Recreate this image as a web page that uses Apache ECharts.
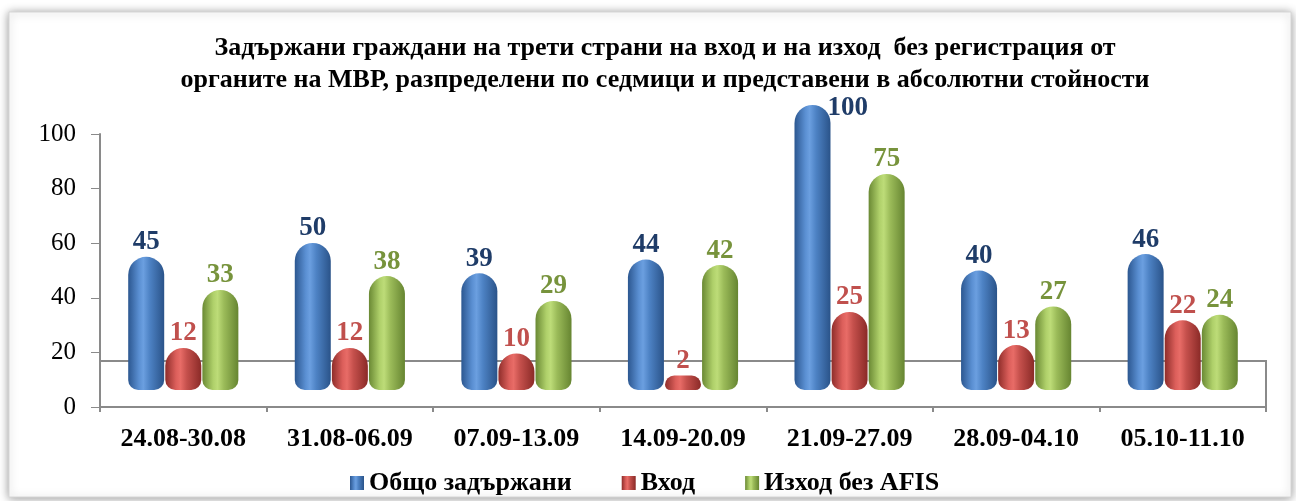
<!DOCTYPE html>
<html>
<head>
<meta charset="utf-8">
<script src="https://cdn.jsdelivr.net/npm/echarts@6/dist/echarts.min.js"></script>
<style>
html,body{margin:0;padding:0;background:#fff;}
#c{width:1296px;height:501px;}
</style>
</head>
<body>
<div id="c"></div>
<script>
var titleLines = [
  'Задържани граждани на трети страни на вход и на изход  без регистрация от',
  'органите на МВР, разпределени по седмици и представени в абсолютни стойности'
];
var categories = ['24.08-30.08','31.08-06.09','07.09-13.09','14.09-20.09','21.09-27.09','28.09-04.10','05.10-11.10'];
var seriesNames = ['Общо задържани','Вход','Изход без AFIS'];
var totalDetained = [45, 50, 39, 44, 100, 40, 46];
var entry = [12, 12, 10, 2, 25, 13, 22];
var exitNoAfis = [33, 38, 29, 42, 75, 27, 24];
var yTicks = [0, 20, 40, 60, 80, 100];

var serif = '"Liberation Serif","Times New Roman",serif';
function grad(stops){
  return {type:'linear',x:0,y:0,x2:1,y2:0,colorStops:stops.map(function(s){return {offset:s[0],color:s[1]};})};
}
var blueGrad = grad([[0,'#2c5790'],[0.3,'#5a8fd2'],[0.42,'#6b9fe0'],[0.6,'#4d82c4'],[1,'#2a5389']]);
var redGrad = grad([[0,'#8e2d2a'],[0.3,'#dc5f5b'],[0.42,'#e86c67'],[0.6,'#c5504c'],[1,'#8a2a27']]);
var greenGrad = grad([[0,'#6a8934'],[0.3,'#afd06a'],[0.42,'#bddc78'],[0.6,'#9bbb59'],[1,'#668531']]);

var radius = [18,18,10,10];
function barSeries(name, data, color, labelColor){
  return {
    name: name, type:'bar', xAxisIndex:1, yAxisIndex:1,
    data: data, barWidth:36, barGap:'3%',
    itemStyle:{color:color, borderRadius:radius},
    label:{show:true, position:'top', distance:1, color:labelColor,
      fontFamily:serif, fontWeight:'bold', fontSize:27}
  };
}
var s0 = barSeries(seriesNames[0], totalDetained.map(function(v){
  if (v === 100) return {value:v, label:{position:[33,-10]}};
  return v;
}), blueGrad, '#1f3c68');
var s1 = barSeries(seriesNames[1], entry, redGrad, '#c0504d');
var s2 = barSeries(seriesNames[2], exitNoAfis, greenGrad, '#77933c');

var chart = echarts.init(document.getElementById('c'));
chart.setOption({
  animation:false,
  backgroundColor:'#fff',
  graphic:[{
    type:'rect', shape:{x:9,y:12,width:1282,height:485},
    style:{fill:'#fff', stroke:'#d6d6d6', lineWidth:1, shadowBlur:9, shadowColor:'rgba(0,0,0,0.4)', shadowOffsetX:0, shadowOffsetY:1},
    z:-10, silent:true
  }],
  title:{
    text: titleLines.join('\n'),
    left:665, textAlign:'center', top:32, padding:0,
    textStyle:{fontFamily:serif, fontWeight:'bold', fontSize:26, lineHeight:32, color:'#000'}
  },
  legend:{
    data: seriesNames, left:345, top:465, itemGap:50, itemWidth:14, itemHeight:14, icon:'rect',
    textStyle:{fontFamily:serif, fontWeight:'bold', fontSize:26, color:'#000'}
  },
  grid:[
    {left:100, right:30, top:134, bottom:94},
    {left:100, right:30, top:105, bottom:111},
    {left:100, right:30, top:361, bottom:94, show:true, borderColor:'#8a8a8a', borderWidth:2, backgroundColor:'transparent'}
  ],
  xAxis:[
    {type:'category', gridIndex:0, data:categories,
     axisLine:{show:true, lineStyle:{color:'#8a8a8a', width:2}},
     axisTick:{show:true, length:5, lineStyle:{color:'#8a8a8a', width:2}},
     axisLabel:{fontFamily:serif, fontWeight:'bold', fontSize:26, color:'#000', margin:19}},
    {type:'category', gridIndex:1, data:categories, show:false},
    {type:'category', gridIndex:2, data:categories, show:false}
  ],
  yAxis:[
    {type:'value', gridIndex:0, min:yTicks[0], max:yTicks[yTicks.length-1], interval:20,
     axisLine:{show:true, lineStyle:{color:'#8a8a8a', width:2}},
     axisTick:{show:true, length:9, lineStyle:{color:'#8a8a8a', width:1}},
     splitLine:{show:false},
     axisLabel:{fontFamily:serif, fontSize:25, color:'#000', margin:24}},
    {type:'value', gridIndex:1, min:-3.26, max:100, startValue:-3.26, show:false, splitLine:{show:false}},
    {type:'value', gridIndex:2, show:false, splitLine:{show:false}}
  ],
  series:[s0, s1, s2]
});
</script>
</body>
</html>
